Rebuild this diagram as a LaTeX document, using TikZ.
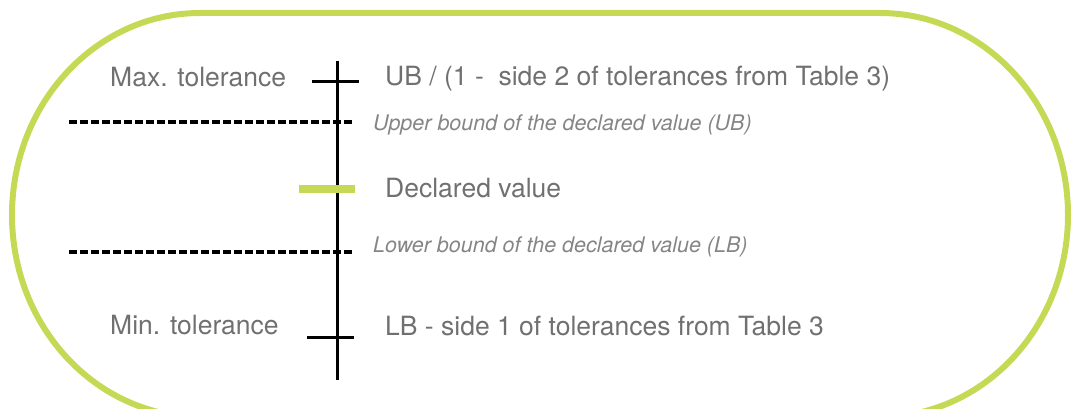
\documentclass[tikz,border=0pt]{standalone}
\usepackage{fontspec}
\setmainfont{TeX Gyre Heros}
\definecolor{limegreen}{RGB}{197,217,85}
\definecolor{labelgray}{RGB}{112,112,112}
\tikzset{every node/.style={inner sep=0pt, anchor=base west, text=labelgray},
  bigtext/.style={font=\fontsize{26.5}{30}\selectfont},
  smalltext/.style={font=\fontsize{21.5}{25}\selectfont\itshape, text=labelgray!85},
  ticks/.style={black, line width=3pt},
  bound/.style={black, line width=3.5pt, dash pattern=on 7.5pt off 3.5pt}}

\begin{document}
\begin{tikzpicture}[x=1pt,y=1pt]
   \useasboundingbox (0,0) rectangle (1072,-409);
   % the green frame
   \draw[limegreen, line width=6pt] (200,-13) -- (880,-13)
      arc[start angle=90, end angle=-90, x radius=188, y radius=202] -- (200,-417)
      arc[start angle=270, end angle=90, x radius=188, y radius=202] -- cycle;
   % axis and marks
   \coordinate (top) at (337,-61);
   \coordinate (bottom) at (337,-380);
   \coordinate (maxl) at (312,-82);   \coordinate (maxr) at (359,-82);
   \coordinate (minl) at (307,-337);  \coordinate (minr) at (354,-337);
   \coordinate (ubl) at (69,-122);    \coordinate (ubr) at (353,-122);
   \coordinate (lbl) at (69,-252);    \coordinate (lbr) at (353,-252);
   \coordinate (decl) at (299,-189);  \coordinate (decr) at (355,-189);
   \draw[ticks] (top) -- (bottom);
   \draw[ticks] (maxl) -- (maxr);
   \draw[ticks] (minl) -- (minr);
   \draw[bound] (ubl) -- (ubr);
   \draw[bound] (lbl) -- (lbr);
   \draw[limegreen, line width=8pt] (decl) -- (decr);
   % texts
   \node[bigtext] (maxtext) at (110,-87) {Max. tolerance};
   \node[bigtext] (maxval) at (385,-86) {UB / (1 -\ \ side 2 of tolerances from Table 3)};
   \node[smalltext] (ubtext) at (373,-131) {Upper bound of the declared value (UB)};
   \node[bigtext] (dectext) at (385,-198) {Declared value};
   \node[smalltext] (lbtext) at (373,-252) {Lower bound of the declared value (LB)};
   \node[bigtext] (mintext) at (110,-334) {Min. tolerance};
   \node[bigtext] (minval) at (385,-335) {LB - side 1 of tolerances from Table 3};
\end{tikzpicture}
\end{document}
